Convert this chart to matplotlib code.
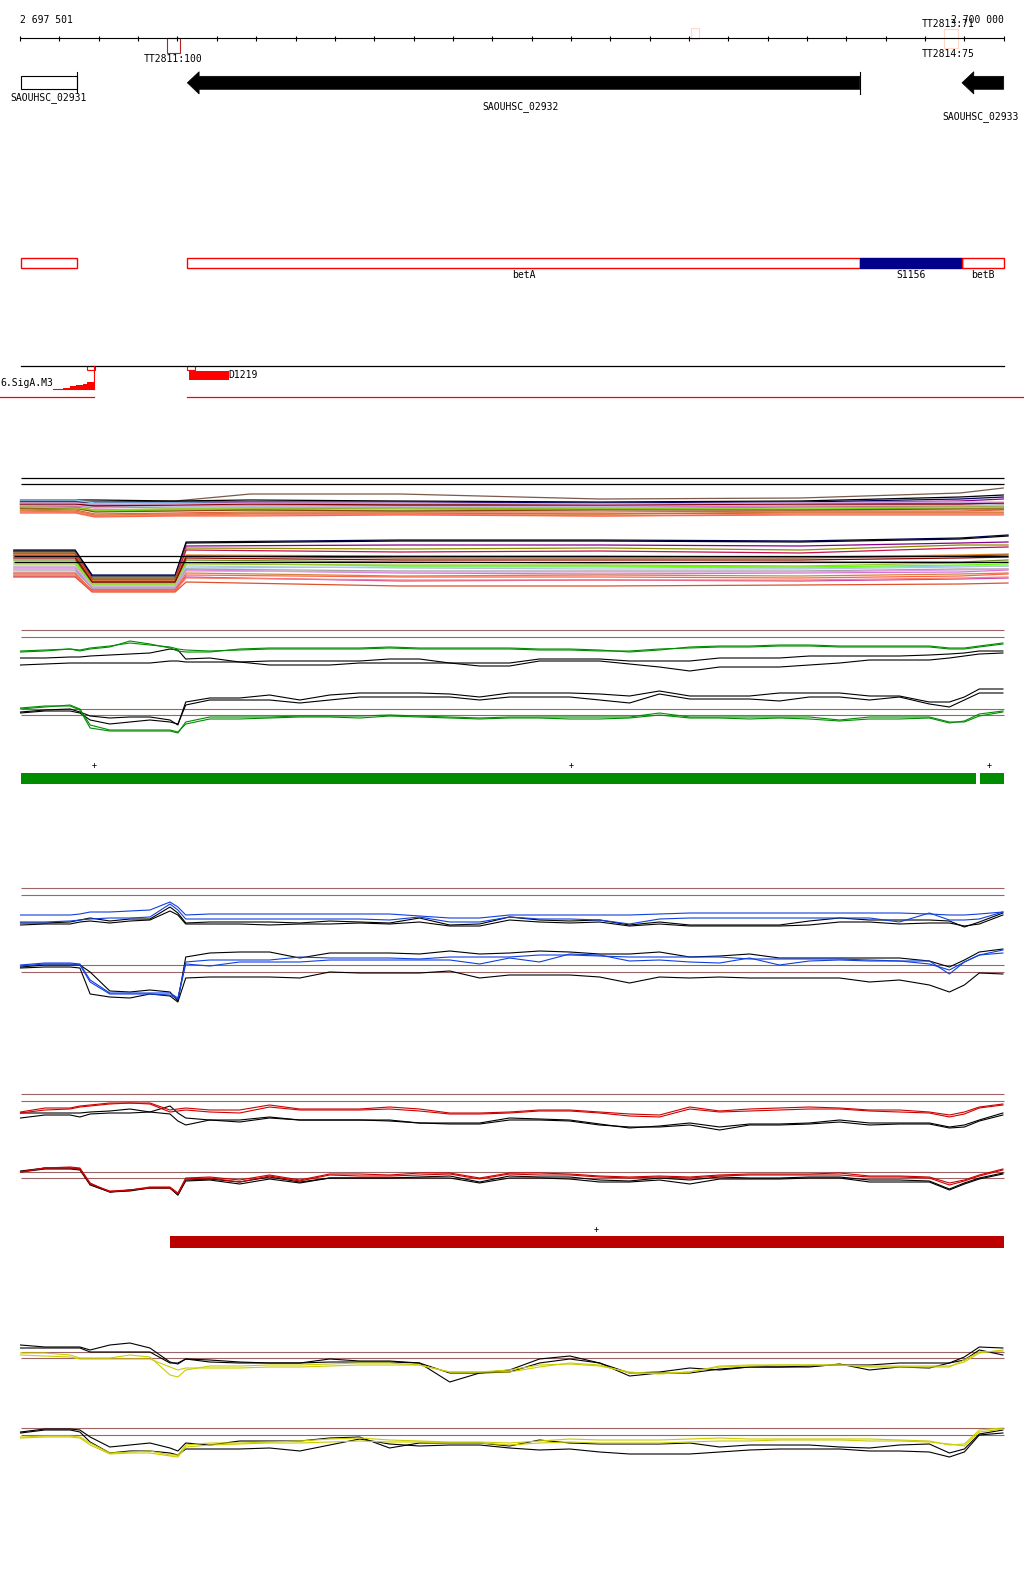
import numpy as np
import matplotlib.pyplot as plt
from matplotlib.patches import Rectangle, Polygon

plt.rcParams['font.family'] = ['DejaVu Sans Mono']
plt.rcParams['font.size'] = 7

# region shown
start = 2697501
end = 2700000
tick_pos = np.arange(2697500, 2700001, 100)

# terminators
tt2811 = (2697874, 2697906)
tt_pale1 = (2699205, 2699226)
tt2813 = (2699848, 2699883)

# genes
gene_names = ['SAOUHSC_02931', 'SAOUHSC_02932', 'SAOUHSC_02933']
gene_start = [2697501, 2697925, 2699894]
gene_end = [2697645, 2699634, 2700000]
gene_label_x = [2697572, 2698773, 2699940]

# operon / sRNA annotation
ann_names = ['', 'betA', 'S1156', 'betB']
ann_start = [2697501, 2697925, 2699634, 2699894]
ann_end = [2697645, 2699634, 2699894, 2700000]
ann_fill = [None, None, '#00008B', None]

# promoter scores (staircase) and D1219
prom_pos = [2697584, 2697609, 2697626, 2697643, 2697660, 2697670, 2697688]
prom_score = [0.3, 1.3, 3.0, 4.7, 5.7, 7.0, 7.0]
d1219 = (2697929, 2698030)

# segments
green_seg = [(2697501, 2699930), (2699941, 2700000)]
green_plus = [2697688, 2698901, 2699962]
red_seg = [(2697882, 2700000)]
red_plus = [2698965]

# sampling positions for the expression tracks (bp from start)
grid_off = [0, 62, 126, 151, 177, 227, 278, 329, 380, 400, 420, 481, 557, 633, 710,
            786, 862, 938, 1014, 1091, 1167, 1243, 1319, 1396, 1472, 1548, 1624, 1701,
            1777, 1853, 1929, 2005, 2082, 2158, 2234, 2310, 2361, 2399, 2437, 2497]

# tiling bundle
up_off = [0, 139, 189, 393, 584, 965, 1473, 1982, 2388, 2498]
up_colors = ['#7B5A4A', 'black', '#000060', '#8B008B', '#87CEFA', '#C8104A', '#8B8B00',
             '#66DD00', '#E0603A', '#CD853F', '#D2691E', '#DA70D6', '#B0C4DE', '#A0A0A0',
             '#FA8072', '#8B4513', '#FF6347', '#9ACD32', '#8B0000', '#DDA0DD']
up_lines = [[98, 98, 97, 99, 106, 106, 101, 102, 107, 112],
            [100, 100, 100, 99, 100, 99, 98, 99, 103, 105],
            [98, 98, 98, 98, 98, 98, 97, 98, 101, 103],
            [96, 96, 95, 96, 97, 96, 96, 97, 99, 101],
            [100, 100, 97, 97, 96, 96, 96, 97, 98, 97],
            [95, 94, 94, 95, 95, 95, 95, 95, 96, 97],
            [93, 93, 90, 91, 91, 92, 91, 93, 94, 93],
            [92, 91, 89, 90, 90, 90, 91, 91, 92, 92],
            [91, 90, 86, 87, 88, 88, 88, 89, 89, 90],
            [90, 89, 85, 86, 87, 87, 86, 88, 88, 88],
            [89, 88, 84, 85, 86, 86, 86, 87, 87, 87],
            [94, 94, 92, 93, 93, 93, 93, 94, 94, 94],
            [95, 95, 93, 94, 94, 94, 94, 95, 95, 95],
            [97, 97, 95, 96, 96, 95, 95, 96, 97, 96],
            [88, 88, 84, 85, 85, 86, 84, 86, 86, 86],
            [92, 92, 88, 89, 90, 89, 90, 90, 91, 91],
            [87, 87, 83, 84, 84, 85, 84, 85, 85, 85],
            [93, 92, 90, 91, 92, 92, 92, 92, 93, 93],
            [96, 96, 94, 95, 96, 95, 95, 96, 96, 97],
            [97, 97, 96, 96, 97, 97, 96, 97, 98, 98]]
low_off = [-17, 139, 182, 393, 421, 965, 1473, 1982, 2388, 2510]
low_colors = ['#000050', 'black', '#8B008B', '#8B8B00', '#C8104A', '#E08020', '#8B4513',
              '#87CEFA', '#6B8E23', '#66FF00', '#9ACD32', '#B0C4DE', '#DA70D6', '#A0A0A0',
              '#CD853F', '#CC44AA', '#FA8072', '#E0502A', '#FF6347', '#8B0000', '#DDA0DD']
low_lines = [[50, 50, 25, 25, 58, 60, 60, 59, 62, 65],
             [49, 49, 24, 24, 57, 59, 59, 58, 61, 64],
             [48, 48, 22, 22, 54, 55, 55, 54, 57, 58],
             [47, 47, 21, 21, 52, 51, 52, 50, 55, 55],
             [46, 46, 20, 20, 50, 48, 49, 47, 52, 53],
             [45, 45, 19, 19, 45, 44, 44, 43, 45, 46],
             [44, 44, 18, 18, 44, 42, 42, 42, 44, 45],
             [28, 28, 13, 13, 32, 33, 33, 32, 34, 34],
             [40, 40, 17, 17, 40, 38, 37, 38, 38, 40],
             [38, 38, 16, 16, 37, 34, 34, 33, 35, 36],
             [36, 36, 15, 15, 36, 35, 35, 34, 37, 38],
             [34, 34, 14, 14, 34, 32, 31, 31, 33, 34],
             [32, 32, 12, 12, 30, 27, 26, 27, 28, 30],
             [30, 30, 12, 12, 31, 29, 29, 29, 31, 31],
             [26, 26, 10, 10, 27, 24, 25, 24, 26, 27],
             [24, 24, 10, 10, 23, 19, 20, 19, 21, 22],
             [25, 25, 9, 9, 22, 20, 20, 20, 22, 23],
             [23, 23, 8, 8, 18, 14, 14, 15, 16, 17],
             [27, 27, 9, 9, 25, 23, 23, 22, 24, 26],
             [42, 42, 18, 18, 42, 40, 40, 40, 42, 43],
             [33, 33, 13, 13, 29, 28, 28, 28, 30, 31]]
bundle_ref = [121.7, 115.7]
bundle_ref_low = [44.3, 37.7]

# green track
green_thr = [110, 103, 31, 25]
green_up_1 = [89, 90, 91, 89, 91, 93, 99, 96, 92, 89, 88, 88, 91, 92, 92, 92, 92, 93, 92, 92,
              92, 92, 91, 91, 90, 88, 90, 93, 94, 94, 95, 95, 94, 94, 94, 94, 92, 92, 94, 97]
green_up_2 = [88, 89, 91, 90, 92, 94, 97, 95, 93, 91, 90, 89, 90, 91, 91, 91, 91, 92, 91, 91,
              91, 91, 90, 90, 89, 89, 91, 92, 93, 93, 94, 94, 93, 93, 93, 93, 91, 91, 93, 96]
green_up_k1 = [82, 82, 83, 83, 84, 85, 86, 87, 91, 90, 81, 82, 78, 79, 79, 79, 79, 81, 81, 77,
               77, 77, 81, 81, 81, 79, 79, 79, 82, 82, 82, 84, 84, 84, 84, 85, 86, 87, 89, 89]
green_up_k2 = [75, 76, 77, 77, 77, 77, 77, 77, 79, 79, 78, 78, 78, 75, 75, 75, 77, 77, 77, 77,
               74, 74, 79, 79, 79, 76, 73, 69, 73, 73, 73, 75, 77, 80, 80, 80, 82, 84, 86, 87]
green_low_1 = [32, 34, 34, 30, 12, 9, 9, 9, 9, 7, 18, 23, 23, 23, 24, 24, 24, 25, 24, 23,
               22, 23, 23, 23, 23, 23, 27, 23, 23, 23, 23, 23, 20, 23, 23, 23, 18, 18, 24, 28]
green_low_2 = [31, 33, 35, 31, 15, 10, 10, 10, 10, 8, 16, 21, 21, 22, 23, 23, 22, 24, 23, 22,
               21, 22, 22, 21, 21, 22, 25, 22, 22, 21, 22, 21, 19, 21, 21, 22, 17, 19, 26, 29]
green_low_k1 = [28, 30, 31, 28, 24, 22, 23, 23, 20, 15, 38, 42, 42, 45, 40, 45, 47, 47, 47, 46,
                43, 47, 47, 47, 46, 44, 49, 44, 44, 44, 47, 47, 47, 44, 44, 38, 38, 43, 51, 51]
green_low_k2 = [27, 29, 29, 27, 20, 16, 18, 20, 18, 16, 35, 40, 40, 40, 37, 40, 43, 43, 43, 43,
                40, 43, 43, 43, 40, 37, 46, 41, 41, 41, 39, 43, 43, 40, 43, 36, 33, 40, 47, 47]

# blue track
blue_thr = [122, 115, 45, 38]
blue_up_1 = [95, 95, 95, 96, 98, 98, 99, 100, 108, 103, 95, 96, 96, 96, 96, 96, 96, 96, 94, 92,
             92, 95, 95, 95, 95, 95, 96, 97, 97, 97, 97, 97, 97, 97, 97, 96, 95, 95, 96, 98]
blue_up_2 = [88, 88, 89, 90, 91, 92, 92, 93, 106, 100, 91, 91, 91, 91, 91, 91, 91, 90, 93, 88,
             88, 93, 91, 91, 90, 86, 91, 92, 92, 92, 92, 92, 92, 92, 88, 97, 90, 90, 91, 98]
blue_up_k1 = [87, 87, 88, 90, 92, 89, 91, 91, 103, 97, 87, 88, 88, 88, 87, 89, 88, 87, 92, 85,
              86, 93, 90, 89, 90, 85, 88, 85, 85, 85, 85, 89, 92, 90, 90, 90, 89, 83, 88, 97]
blue_up_k2 = [85, 86, 86, 88, 89, 87, 89, 90, 99, 95, 86, 86, 86, 85, 86, 86, 87, 86, 88, 84,
              84, 90, 88, 87, 88, 84, 86, 84, 84, 84, 84, 85, 88, 88, 86, 87, 87, 84, 86, 95]
blue_low_k1 = [43, 45, 45, 45, 38, 19, 18, 20, 18, 9, 53, 57, 58, 58, 52, 57, 57, 57, 56, 59,
               56, 57, 59, 58, 56, 56, 58, 53, 54, 56, 52, 52, 52, 52, 52, 49, 43, 50, 58, 61]
blue_low_1 = [45, 47, 47, 46, 30, 17, 17, 17, 17, 12, 48, 50, 50, 50, 53, 52, 52, 52, 51, 53,
              53, 53, 55, 55, 54, 53, 53, 53, 53, 51, 51, 51, 51, 50, 49, 49, 36, 48, 55, 57]
blue_low_2 = [44, 46, 46, 45, 28, 16, 16, 16, 15, 11, 46, 44, 48, 48, 48, 50, 50, 50, 50, 50,
              46, 52, 48, 56, 55, 49, 50, 48, 47, 52, 45, 49, 50, 49, 49, 46, 40, 48, 55, 60]
blue_low_k2 = [42, 43, 43, 42, 16, 13, 12, 16, 14, 8, 32, 33, 33, 33, 32, 38, 37, 37, 37, 39,
               32, 35, 35, 35, 33, 27, 33, 32, 33, 32, 32, 32, 32, 28, 30, 25, 18, 25, 37, 36]

# red track
red_thr = [106, 99, 28, 22]
red_up_1 = [88, 92, 92, 94, 95, 97, 97, 97, 90, 91, 92, 90, 90, 95, 91, 91, 91, 93, 91, 87,
            87, 88, 90, 90, 88, 86, 85, 93, 89, 91, 92, 93, 92, 90, 90, 88, 85, 88, 93, 96]
red_up_2 = [87, 90, 91, 93, 94, 96, 97, 96, 88, 89, 90, 88, 87, 93, 90, 90, 90, 91, 89, 86,
            86, 87, 89, 89, 87, 84, 83, 91, 88, 89, 90, 91, 91, 89, 88, 87, 83, 86, 92, 95]
red_up_k1 = [87, 87, 87, 87, 88, 89, 91, 88, 94, 87, 82, 80, 80, 83, 80, 80, 80, 80, 77, 77,
             77, 82, 81, 80, 76, 72, 74, 77, 73, 76, 76, 77, 80, 77, 77, 77, 73, 75, 80, 87]
red_up_k2 = [82, 85, 85, 83, 86, 87, 87, 88, 86, 79, 75, 80, 78, 82, 80, 80, 80, 79, 77, 76,
             76, 80, 80, 79, 75, 73, 73, 75, 70, 75, 75, 76, 78, 75, 76, 76, 72, 73, 79, 85]
red_low_1 = [28, 32, 33, 32, 17, 8, 10, 13, 13, 7, 22, 23, 20, 25, 20, 26, 26, 25, 27, 27,
             22, 27, 27, 26, 24, 23, 24, 23, 25, 26, 26, 26, 27, 24, 24, 23, 17, 20, 25, 31]
red_low_2 = [28, 32, 32, 31, 16, 9, 10, 12, 12, 6, 21, 22, 18, 24, 19, 25, 24, 24, 25, 26,
             21, 26, 25, 25, 23, 22, 23, 22, 24, 25, 25, 25, 25, 23, 23, 22, 15, 19, 24, 30]
red_low_k1 = [29, 32, 32, 31, 16, 8, 10, 12, 12, 5, 20, 21, 18, 23, 18, 22, 22, 22, 23, 24,
              18, 24, 23, 23, 20, 19, 22, 20, 23, 22, 22, 23, 23, 20, 20, 19, 11, 17, 22, 27]
red_low_k2 = [28, 31, 31, 30, 15, 8, 9, 12, 12, 5, 19, 20, 16, 21, 17, 22, 22, 22, 22, 22,
              17, 22, 22, 21, 18, 18, 20, 16, 21, 21, 21, 22, 22, 18, 18, 18, 10, 16, 21, 26]

# yellow track
yel_thr = [113, 107, 37, 30]
yel_up_k1 = [120, 118, 118, 118, 115, 120, 122, 117, 103, 101, 106, 105, 103, 102, 102, 106, 104, 104, 102, 83,
             92, 95, 106, 109, 102, 89, 92, 92, 96, 98, 98, 98, 101, 95, 98, 97, 102, 108, 118, 117]
yel_up_k2 = [117, 117, 117, 117, 113, 113, 113, 113, 102, 102, 106, 103, 102, 102, 102, 103, 103, 103, 102, 92,
             92, 93, 102, 106, 102, 92, 93, 97, 95, 98, 98, 99, 100, 100, 102, 102, 102, 105, 115, 110]
yel_up_1 = [112, 112, 110, 107, 107, 107, 110, 108, 90, 88, 95, 99, 99, 100, 100, 101, 102, 102, 100, 93,
            93, 93, 98, 102, 100, 92, 92, 93, 98, 99, 100, 100, 100, 99, 99, 99, 99, 103, 112, 115]
yel_up_2 = [110, 109, 108, 106, 106, 106, 106, 106, 98, 95, 97, 97, 97, 98, 98, 99, 100, 100, 100, 93,
            93, 95, 100, 101, 99, 93, 91, 93, 99, 100, 100, 100, 100, 98, 98, 98, 98, 105, 113, 114]
yel_low_k1 = [33, 36, 36, 35, 28, 18, 20, 22, 17, 14, 22, 20, 24, 24, 24, 27, 28, 17, 22, 22,
              22, 19, 25, 22, 21, 21, 21, 22, 18, 20, 20, 20, 18, 17, 20, 21, 12, 16, 31, 35]
yel_low_k2 = [32, 35, 35, 33, 23, 12, 14, 14, 12, 10, 16, 16, 16, 17, 14, 20, 26, 21, 19, 20,
              20, 17, 15, 16, 13, 11, 11, 11, 13, 15, 16, 16, 16, 14, 14, 13, 8, 13, 30, 32]
yel_low_1 = [28, 29, 29, 28, 22, 12, 13, 14, 10, 10, 20, 22, 22, 23, 24, 26, 27, 25, 24, 23,
             23, 22, 24, 26, 25, 25, 25, 26, 27, 26, 26, 26, 26, 26, 25, 24, 20, 21, 35, 37]
yel_low_2 = [27, 28, 28, 27, 20, 11, 12, 12, 9, 8, 18, 20, 21, 22, 22, 23, 24, 23, 23, 22,
             22, 20, 22, 23, 22, 22, 22, 23, 24, 24, 25, 25, 25, 24, 24, 23, 21, 19, 33, 36]

#-------------------------------------------------------------------------------

W, H = 1024, 1589
bpp = (end - start) / (1003.7 - 20.5)
xmin = start - 20.5 * bpp
xmax = xmin + W * bpp
grid = start + np.array(grid_off)

fig = plt.figure(figsize=(W / 100, H / 100), dpi=100)
ax = fig.add_axes([0, 0, 1, 1])
ax.set_xlim(xmin, xmax)
ax.set_ylim(H, 0)
ax.axis('off')

# ruler
ax.plot([start, end], [38.3, 38.3], color='k', lw=0.8)
ax.vlines(tick_pos, 35.5, 41, color='k', lw=0.8)
ax.text(start, 20, '2 697 501', ha='left', va='center')
ax.text(end, 20, '2 700 000', ha='right', va='center')

ax.add_patch(Rectangle((tt2811[0], 38.3), tt2811[1] - tt2811[0], 14.4, fill=False, ec='#B22222', lw=0.8))
ax.text((tt2811[0] + tt2811[1]) / 2, 59, 'TT2811:100', ha='center', va='center')
ax.add_patch(Rectangle((tt_pale1[0], 28.3), tt_pale1[1] - tt_pale1[0], 10.7, fill=False, ec='#FFD8C8', lw=0.8))
ax.add_patch(Rectangle((tt2813[0], 29.3), tt2813[1] - tt2813[0], 19, fill=False, ec='#FFD8C8', lw=0.8))
ax.text(2699792, 24, 'TT2813:71', ha='left', va='center')
ax.text(2699792, 54.3, 'TT2814:75', ha='left', va='center')

# genes
head = 30
for i in range(3):
    if i == 0:
        ax.add_patch(Rectangle((gene_start[i], 76.3), gene_end[i] - gene_start[i], 13,
                               fc='white', ec='k', lw=0.8))
        ax.plot([gene_end[i], gene_end[i]], [71.7, 93.3], color='k', lw=0.8)
        ax.text(gene_label_x[i], 97.3, gene_names[i], ha='center', va='center')
    else:
        tip = gene_start[i]
        pts = [(tip, 82.8), (tip + head, 71.7), (tip + head, 76.3), (gene_end[i], 76.3),
               (gene_end[i], 89.3), (tip + head, 89.3), (tip + head, 94)]
        ax.add_patch(Polygon(pts, closed=True, fc='k', ec='k', lw=0.5))
ax.plot([gene_end[1], gene_end[1]], [71.7, 94], color='k', lw=0.8)
ax.text(gene_label_x[1], 106.7, gene_names[1], ha='center', va='center')
ax.text(gene_label_x[2], 116.7, gene_names[2], ha='center', va='center')

# annotation
for i in range(4):
    if ann_fill[i] is None:
        ax.add_patch(Rectangle((ann_start[i], 258.3), ann_end[i] - ann_start[i], 10,
                               fill=False, ec='red', lw=1))
    else:
        ax.add_patch(Rectangle((ann_start[i], 258.3), ann_end[i] - ann_start[i], 10,
                               fc=ann_fill[i], ec=ann_fill[i], lw=1))
    if ann_names[i]:
        ax.text((ann_start[i] + ann_end[i]) / 2, 275, ann_names[i], ha='center', va='center')

# promoters
ax.plot([start, end], [366.3, 366.3], color='k', lw=0.9)
ax.text(xmin, 383.3, '6.SigA.M3', ha='left', va='center')
ax.fill_between(prom_pos, 389.3, 389.3 - np.array(prom_score), step='post', color='red', lw=0)
ax.plot([prom_pos[0], prom_pos[-1]], [389.3, 389.3], color='red', lw=0.8)
ax.plot([prom_pos[-1], prom_pos[-1]], [366.3, 389.3], color='red', lw=0.8)
ax.add_patch(Rectangle((2697671, 366.3), 19, 4, fill=False, ec='red', lw=0.8))
ax.add_patch(Rectangle((2697925, 366.3), 19, 4, fill=False, ec='red', lw=0.8))
ax.add_patch(Rectangle((d1219[0], 370.7), d1219[1] - d1219[0], 9, fc='red', ec='red', lw=0))
ax.text(d1219[1], 375, 'D1219', ha='left', va='center')
ax.plot([xmin, prom_pos[-1]], [397, 397], color='red', lw=0.9)
ax.plot([gene_start[1], xmax], [397, 397], color='red', lw=0.9)

# segment bars
for s, e in green_seg:
    ax.add_patch(Rectangle((s, 773.3), e - s, 10.4, fc='#008C00', ec='none'))
for p in green_plus:
    ax.text(p, 766, '+', ha='center', va='center', fontsize=6)
for s, e in red_seg:
    ax.add_patch(Rectangle((s, 1236), e - s, 11.7, fc='#BB0000', ec='none'))
for p in red_plus:
    ax.text(p, 1229.3, '+', ha='center', va='center', fontsize=6)


def track_axes(top, bottom):
    a = fig.add_axes([0, 1 - bottom / H, 1, (bottom - top) / H])
    a.set_xlim(xmin, xmax)
    a.set_ylim(0, bottom - top)
    a.axis('off')
    a.patch.set_alpha(0)
    return a


# tiling bundle
bx = track_axes(465, 600)
bx.hlines(bundle_ref, start, end, color='k', lw=0.9)
for c, v in zip(up_colors, up_lines):
    bx.plot(start + np.array(up_off), v, color=c, lw=0.9)
for c, v in zip(low_colors, low_lines):
    bx.plot(start + np.array(low_off), v, color=c, lw=0.9)
bx.hlines(bundle_ref_low, start + low_off[0], start + low_off[-1], color='k', lw=0.9)

brown = '#9C6464'

gx = track_axes(620, 740)
gx.hlines(green_thr, start, end, color=brown, lw=0.8)
for v in [green_up_k1, green_up_k2, green_low_k1, green_low_k2]:
    gx.plot(grid, v, color='k', lw=0.8)
for v in [green_up_1, green_up_2, green_low_1, green_low_2]:
    gx.plot(grid, v, color='#008C00', lw=0.8)

bl = track_axes(880, 1010)
bl.hlines(blue_thr, start, end, color=brown, lw=0.8)
for v in [blue_up_k1, blue_up_k2, blue_low_k1, blue_low_k2]:
    bl.plot(grid, v, color='k', lw=0.8)
for v in [blue_up_1, blue_up_2, blue_low_1, blue_low_2]:
    bl.plot(grid, v, color='#1040E0', lw=0.8)

rx = track_axes(1085, 1200)
rx.hlines(red_thr, start, end, color=brown, lw=0.8)
for v in [red_up_k1, red_up_k2, red_low_k1, red_low_k2]:
    rx.plot(grid, v, color='k', lw=0.8)
for v in [red_up_1, red_up_2, red_low_1, red_low_2]:
    rx.plot(grid, v, color='#CC0000', lw=0.8)

yx = track_axes(1335, 1465)
yx.hlines(yel_thr, start, end, color=brown, lw=0.8)
for v in [yel_up_k1, yel_up_k2, yel_low_k1, yel_low_k2]:
    yx.plot(grid, v, color='k', lw=0.8)
for v in [yel_up_1, yel_up_2, yel_low_1, yel_low_2]:
    yx.plot(grid, v, color='#CCCC00', lw=0.8)

fig.savefig('out.png', dpi=100)
